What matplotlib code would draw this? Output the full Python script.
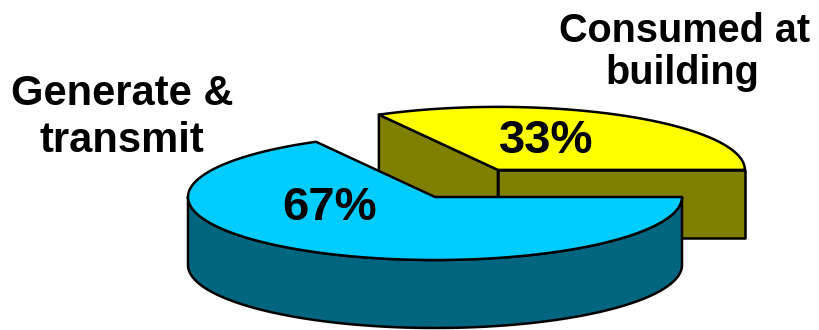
import numpy as np
import matplotlib.pyplot as plt
from matplotlib.patches import Polygon

# Dados do gráfico
rotulos = ['Generate &\ntransmit', 'Consumed at\nbuilding']
valores = [67, 33]
cores_topo = ['#00CCFF', '#FFFF00']
cores_lado = ['#006680', '#808000']

# Geometria da pizza 3D (em pixels)
cx, cy = 435, 197
a, b = 247, 63
prof = 68
explode = 0.5

total = sum(valores)
ang_amarelo = 360 * valores[1] / total


def ponto(c, t):
    t = np.radians(t)
    return np.array([c[0] + a * np.cos(t), c[1] - b * np.sin(t)])


def arco(c, t0, t1, n=200):
    t = np.radians(np.linspace(t0, t1, n))
    return np.column_stack([c[0] + a * np.cos(t), c[1] - b * np.sin(t)])


fig = plt.figure(figsize=(8.19, 3.30), dpi=100)
ax = fig.add_axes([0, 0, 1, 1])
ax.set_xlim(0, 819)
ax.set_ylim(330, 0)
ax.axis('off')

kw = dict(edgecolor='black', linewidth=1.8, joinstyle='round')
d = np.array([0, prof])

# Fatia amarela (deslocada para trás)
meio = np.radians(ang_amarelo / 2)
c2 = np.array([cx + explode * a * np.cos(meio), cy - explode * b * np.sin(meio)])
p0 = ponto(c2, 0)
p1 = ponto(c2, ang_amarelo)
ax.add_patch(Polygon([c2, p1, p1 + d, c2 + d], facecolor=cores_lado[1], **kw))
ax.add_patch(Polygon([c2, p0, p0 + d, c2 + d], facecolor=cores_lado[1], **kw))
topo2 = np.vstack([c2, arco(c2, 0, ang_amarelo)])
ax.add_patch(Polygon(topo2, facecolor=cores_topo[1], **kw))

# Fatia azul
c1 = np.array([cx, cy])
cima = arco(c1, 180, 360)
lado = np.vstack([cima, (cima + d)[::-1]])
ax.add_patch(Polygon(lado, facecolor=cores_lado[0], **kw))
topo1 = np.vstack([c1, arco(c1, ang_amarelo, 360)])
ax.add_patch(Polygon(topo1, facecolor=cores_topo[0], **kw))

fonte = 'Liberation Sans'
# Percentuais
ax.text(330, 220, f'{valores[0]}%', fontsize=34, fontweight='bold',
        family=fonte, ha='center', va='baseline')
ax.text(546, 153, f'{valores[1]}%', fontsize=34, fontweight='bold',
        family=fonte, ha='center', va='baseline')

# Rótulos das fatias
l1 = rotulos[0].split('\n')
ax.text(122, 105, l1[0], fontsize=30, fontweight='bold', family=fonte,
        ha='center', va='baseline')
ax.text(122, 152, l1[1], fontsize=30, fontweight='bold', family=fonte,
        ha='center', va='baseline')
l2 = rotulos[1].split('\n')
ax.text(685, 42, l2[0], fontsize=28.5, fontweight='bold', family=fonte,
        ha='center', va='baseline')
ax.text(682, 84, l2[1], fontsize=28.5, fontweight='bold', family=fonte,
        ha='center', va='baseline')

fig.savefig('out.png', dpi=100)
